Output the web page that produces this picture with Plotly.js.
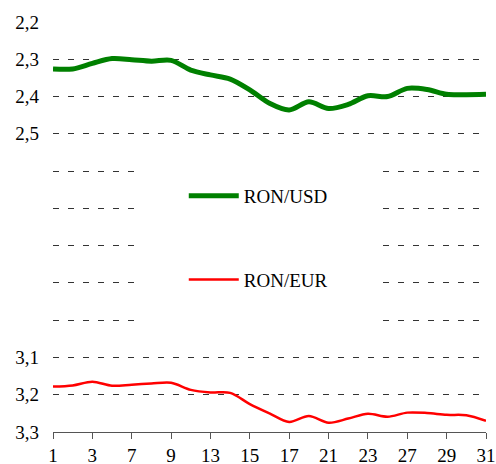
<!DOCTYPE html>
<html>
<head>
<meta charset="utf-8">
<script src="https://cdn.plot.ly/plotly-3.0.1.min.js"></script>
<style>html,body{margin:0;padding:0;background:#fff;}#chart{width:496px;height:464px;}</style>
</head>
<body>
<div id="chart"></div>
<script>
// Business days of the month (category axis)
const days = ["1","2","3","6","7","8","9","10","13","14","15","16","17","20","21","22","23","24","27","28","29","30","31"];
const tickLabels = ["1","3","7","9","13","15","17","21","23","27","29","31"];
const ronUsd = [2.326,2.326,2.311,2.298,2.301,2.305,2.303,2.329,2.342,2.353,2.382,2.418,2.436,2.414,2.432,2.421,2.398,2.400,2.378,2.381,2.394,2.395,2.394];
const ronEur = [3.178,3.175,3.165,3.176,3.173,3.170,3.168,3.187,3.194,3.195,3.225,3.250,3.273,3.257,3.275,3.264,3.251,3.259,3.248,3.249,3.254,3.255,3.270];
const yTickVals = [2.2,2.3,2.4,2.5,2.6,2.7,2.8,2.9,3.0,3.1,3.2,3.3];
const yTickText = ["2,2","2,3","2,4","2,5","","","","","","3,1","3,2","3,3"];

function mkFont() { return {family: "Liberation Serif", size: 19, color: "#000"}; }

const traces = [
  {x: days, y: ronUsd, name: "RON/USD", type: "scatter", mode: "lines",
   line: {color: "#008000", width: 5, shape: "spline", smoothing: 0.9}, legendgroup: "a"},
  {x: days, y: ronEur, name: "RON/EUR", type: "scatter", mode: "lines",
   line: {color: "#ff0000", width: 2.5, shape: "spline", smoothing: 0.9}, legendgroup: "b"}
];

const layout = {
  width: 496, height: 464,
  margin: {l: 53, r: 10, t: 22, b: 32},
  paper_bgcolor: "#fff", plot_bgcolor: "#fff",
  showlegend: true,
  legend: {x: 0.302, y: 0.622, xanchor: "left", yanchor: "top", bgcolor: "rgba(0,0,0,0)",
           traceorder: "grouped", tracegroupgap: 56, itemwidth: 50, font: mkFont()},
  xaxis: {type: "category", range: [0, 22], tickmode: "array", tickvals: tickLabels, ticktext: tickLabels,
          showgrid: false, showline: true, linecolor: "#555", linewidth: 1,
          ticks: "outside", ticklen: 6, tickcolor: "#555", tickfont: mkFont(), zeroline: false},
  yaxis: {range: [3.3, 2.2], tickmode: "array", tickvals: yTickVals, ticktext: yTickText,
          showgrid: true, gridcolor: "#333", gridwidth: 1, griddash: "6px,9px",
          showline: false, ticks: "", tickfont: mkFont(), zeroline: false, ticklabelstandoff: 13},
  shapes: [{type: "rect", xref: "paper", yref: "y", x0: 0.192, x1: 0.753, y0: 2.55, y1: 3.05,
            fillcolor: "#fff", line: {width: 0}, layer: "above"}]
};

Plotly.newPlot("chart", traces, layout, {displayModeBar: false});
</script>
</body>
</html>
